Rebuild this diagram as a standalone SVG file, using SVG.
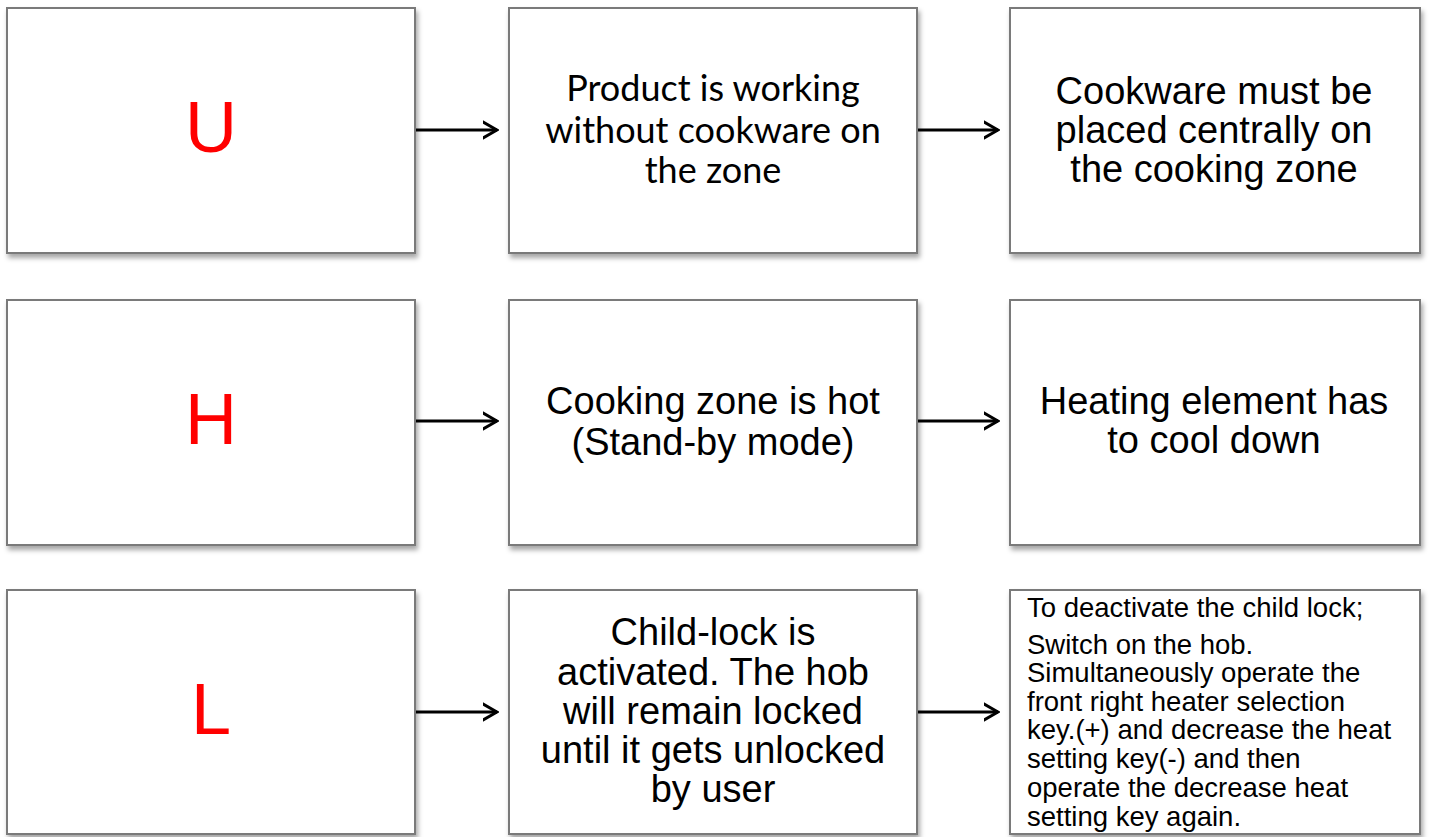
<svg xmlns="http://www.w3.org/2000/svg" width="1430" height="837" viewBox="0 0 1430 837">
<style>
.box{fill:#ffffff;stroke:#7a7a7a;stroke-width:2;filter:url(#sh)}
.code{font-family:"Liberation Sans",Arial,sans-serif;font-size:72px;fill:#ff0000;text-anchor:middle}
.t{font-family:"Liberation Sans",Arial,sans-serif;font-size:38px;fill:#000;text-anchor:middle}
.c{font-family:Lato,"Open Sans",sans-serif;font-size:36px;fill:#000;text-anchor:middle}
.s{font-family:"Liberation Sans",Arial,sans-serif;font-size:27.5px;fill:#000}
.arr{stroke:#000;stroke-width:3;fill:none;marker-end:url(#ah)}
</style>
<defs>
<filter id="sh" x="-5%" y="-5%" width="115%" height="120%">
<feDropShadow dx="2" dy="4" stdDeviation="2.5" flood-color="#000" flood-opacity="0.35"/>
</filter>
<marker id="ah" markerWidth="16" markerHeight="20" refX="14" refY="10" orient="auto" markerUnits="userSpaceOnUse">
<path d="M-9,-3 L14,10 L-9,23" transform="translate(0,0)" fill="none" stroke="#000" stroke-width="3"/>
</marker>
</defs>
<rect width="1430" height="837" fill="#fff"/>

<g id="connectors">
<line class="arr" x1="416" y1="130" x2="497" y2="130"/>
<line class="arr" x1="918" y1="130" x2="998" y2="130"/>
<line class="arr" x1="416" y1="421" x2="497" y2="421"/>
<line class="arr" x1="918" y1="421" x2="998" y2="421"/>
<line class="arr" x1="416" y1="712" x2="497" y2="712"/>
<line class="arr" x1="918" y1="712" x2="998" y2="712"/>
</g>

<g id="U">
<rect class="box" x="7" y="8" width="408" height="245"/>
<text class="code" x="211" y="152">U</text>
</g>
<g id="U-cause">
<rect class="box" x="509" y="8" width="408" height="245"/>
<text class="c" x="713" y="101">Product is working</text>
<text class="c" x="713" y="143">without cookware on</text>
<text class="c" x="713" y="183">the zone</text>
</g>
<g id="U-action">
<rect class="box" x="1010" y="8" width="410" height="245"/>
<text class="t" x="1214" y="104">Cookware must be</text>
<text class="t" x="1214" y="143">placed centrally on</text>
<text class="t" x="1214" y="182">the cooking zone</text>
</g>

<g id="H">
<rect class="box" x="7" y="300" width="408" height="245"/>
<text class="code" x="211" y="444">H</text>
</g>
<g id="H-cause">
<rect class="box" x="509" y="300" width="408" height="245"/>
<text class="t" x="713" y="414">Cooking zone is hot</text>
<text class="t" x="713" y="455">(Stand-by mode)</text>
</g>
<g id="H-action">
<rect class="box" x="1010" y="300" width="410" height="245"/>
<text class="t" x="1214" y="414">Heating element has</text>
<text class="t" x="1214" y="453">to cool down</text>
</g>

<g id="L">
<rect class="box" x="7" y="590" width="408" height="244"/>
<text class="code" x="211" y="734">L</text>
</g>
<g id="L-cause">
<rect class="box" x="509" y="590" width="408" height="244"/>
<text class="t" x="713" y="645">Child-lock is</text>
<text class="t" x="713" y="685">activated. The hob</text>
<text class="t" x="713" y="724">will remain locked</text>
<text class="t" x="713" y="763">until it gets unlocked</text>
<text class="t" x="713" y="802">by user</text>
</g>
<g id="L-action">
<rect class="box" x="1010" y="590" width="410" height="244"/>
<text class="s" x="1027" y="617">To deactivate the child lock;</text>
<text class="s" x="1027" y="654">Switch on the hob.</text>
<text class="s" x="1027" y="682">Simultaneously operate the</text>
<text class="s" x="1027" y="711">front right heater selection</text>
<text class="s" x="1027" y="739">key.(+) and decrease the heat</text>
<text class="s" x="1027" y="768">setting key(-) and then</text>
<text class="s" x="1027" y="797">operate the decrease heat</text>
<text class="s" x="1027" y="826">setting key again.</text>
</g>
</svg>
